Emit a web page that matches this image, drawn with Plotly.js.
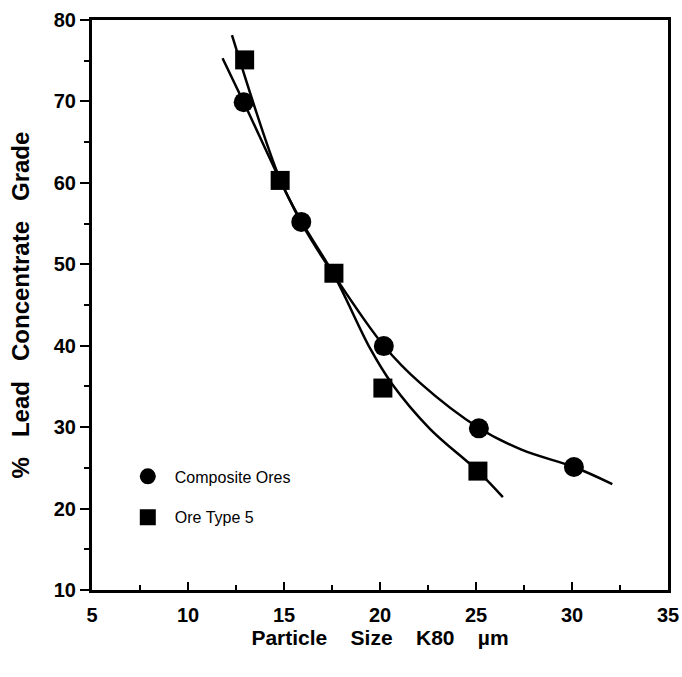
<!DOCTYPE html>
<html>
<head>
<meta charset="utf-8">
<script src="https://cdn.plot.ly/plotly-3.0.1.min.js"></script>
<style>html,body{margin:0;padding:0;background:#fff}#chart{width:682px;height:677px}</style>
</head>
<body>
<div id="chart"></div>
<script>
// Measured points
const compositeX = [12.9, 15.9, 20.2, 25.15, 30.1];
const compositeY = [69.9, 55.2, 39.95, 29.85, 25.1];
const type5X = [12.95, 14.8, 17.6, 20.15, 25.1];
const type5Y = [75.1, 60.3, 48.9, 34.8, 24.6];

// Fitted curves
const compositeCurveX = [11.8, 12.9, 15.9, 17.6, 20.2, 22.1, 25.15, 27.4, 30.1, 32.1];
const compositeCurveY = [75.3, 69.9, 55.1, 48.7, 40.0, 35.4, 29.9, 27.2, 25.1, 23.0];
const type5CurveX = [12.29, 14.8, 15.9, 17.6, 19.5, 20.6, 22.6, 25.1, 26.4];
const type5CurveY = [78.15, 60.4, 55.3, 48.7, 39.6, 35.4, 29.8, 24.6, 21.4];

const seriesNames = ['Composite Ores', 'Ore Type 5'];
const xTickVals = [5, 10, 15, 20, 25, 30, 35];
const yTickVals = [10, 20, 30, 40, 50, 60, 70, 80];

const tickFont = {family: 'Liberation Sans, Arial, sans-serif', size: 20, color: '#000', weight: 'bold'};
const xTitleFont = {family: 'Liberation Sans, Arial, sans-serif', size: 21, color: '#000', weight: 'bold'};
const yTitleFont = {family: 'Liberation Sans, Arial, sans-serif', size: 24, color: '#000', weight: 'bold'};
const xGap = '\u00A0\u00A0\u00A0\u00A0';
const yGap = '\u00A0\u00A0\u00A0';

const traces = [
  {x: compositeCurveX, y: compositeCurveY, mode: 'lines', line: {color: '#000', width: 2.5, shape: 'spline', smoothing: 1}, showlegend: false, hoverinfo: 'skip'},
  {x: type5CurveX, y: type5CurveY, mode: 'lines', line: {color: '#000', width: 2.5, shape: 'spline', smoothing: 1}, showlegend: false, hoverinfo: 'skip'},
  {x: compositeX, y: compositeY, mode: 'markers', name: seriesNames[0], legendgroup: 'a',
   marker: {symbol: 'circle', size: 20, color: '#000'}},
  {x: type5X, y: type5Y, mode: 'markers', name: seriesNames[1], legendgroup: 'b',
   marker: {symbol: 'square', size: 19, color: '#000'}}
];

const layout = {
  width: 682, height: 677,
  margin: {l: 92, r: 14, t: 20, b: 87},
  paper_bgcolor: '#fff', plot_bgcolor: '#fff',
  showlegend: true,
  legend: {x: 0.05, y: 0.229, xanchor: 'left', yanchor: 'top', bgcolor: 'rgba(0,0,0,0)',
           traceorder: 'grouped', tracegroupgap: 17, itemwidth: 44,
           font: {family: 'Liberation Sans Narrow, Arial Narrow, sans-serif', size: 16, color: '#000'}},
  xaxis: {
    range: [5, 35], tickvals: xTickVals, ticktext: xTickVals.map(String),
    showgrid: false, zeroline: false,
    showline: true, linecolor: '#000', linewidth: 3, mirror: true,
    ticks: 'inside', ticklen: 8, tickwidth: 2, tickcolor: '#000',
    minor: {dtick: 2.5, tick0: 5, ticks: 'inside', ticklen: 5, tickwidth: 2, tickcolor: '#000'},
    tickfont: tickFont, ticklabelstandoff: 5,
    title: {text: 'Particle' + xGap + 'Size' + xGap + 'K80' + xGap + '\u00B5m', font: xTitleFont, standoff: 6}
  },
  yaxis: {
    range: [10, 80], tickvals: yTickVals, ticktext: yTickVals.map(String),
    showgrid: false, zeroline: false,
    showline: true, linecolor: '#000', linewidth: 3, mirror: true,
    ticks: 'outside', ticklen: 9, tickwidth: 2, tickcolor: '#000',
    minor: {dtick: 5, tick0: 10, ticks: 'outside', ticklen: 5, tickwidth: 2, tickcolor: '#000'},
    tickfont: tickFont,
    title: {text: '%' + yGap + 'Lead' + yGap + 'Concentrate' + yGap + 'Grade', font: yTitleFont, standoff: 18}
  }
};

Plotly.newPlot('chart', traces, layout, {displayModeBar: false, staticPlot: true});
</script>
</body>
</html>
